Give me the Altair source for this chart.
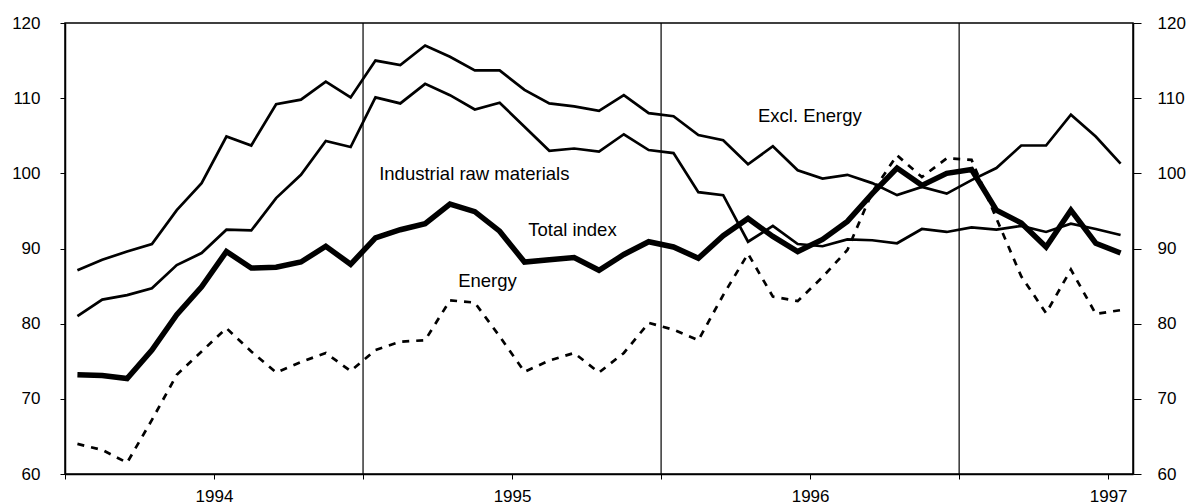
import altair as alt
import pandas as pd

# Monthly values, Jan 1994 .. Jul 1997 (43 months)
total = [73.2, 73.1, 72.7, 76.5, 81.2, 84.9, 89.6, 87.4, 87.5, 88.2, 90.3, 87.9,
         91.4, 92.5, 93.3, 95.9, 94.9, 92.3, 88.2, 88.5, 88.8, 87.1, 89.2, 90.9,
         90.2, 88.7, 91.7, 94.0, 91.6, 89.6, 91.2, 93.6, 97.3, 100.7, 98.4, 100.0, 100.5,
         95.1, 93.4, 90.2, 95.1, 90.7, 89.4]
excl_energy = [87.1, 88.5, 89.6, 90.6, 95.1, 98.7, 104.9, 103.7, 109.2, 109.8, 112.2, 110.1,
               115.0, 114.4, 117.0, 115.5, 113.7, 113.7, 111.1, 109.3, 108.9, 108.3, 110.4, 108.0,
               107.6, 105.1, 104.4, 101.2, 103.6, 100.4, 99.3, 99.8, 98.7, 97.1, 98.2, 97.3, 99.1,
               100.7, 103.7, 103.7, 107.8, 104.9, 101.3]
raw_materials = [81.0, 83.2, 83.8, 84.7, 87.8, 89.4, 92.5, 92.4, 96.7, 99.8, 104.3, 103.5,
                 110.1, 109.3, 111.9, 110.4, 108.5, 109.4, 106.2, 103.0, 103.3, 102.9, 105.2, 103.1,
                 102.7, 97.5, 97.1, 90.9, 93.0, 90.6, 90.3, 91.2, 91.1, 90.7, 92.6, 92.2, 92.8,
                 92.5, 93.0, 92.2, 93.3, 92.6, 91.8]
energy = [64.0, 63.2, 61.5, 67.2, 73.2, 76.3, 79.4, 76.3, 73.5, 74.9, 76.1, 73.7,
          76.5, 77.6, 77.8, 83.1, 82.8, 78.3, 73.6, 75.1, 76.1, 73.5, 76.1, 80.1,
          79.2, 77.8, 83.8, 89.3, 83.6, 83.0, 86.2, 89.8, 97.5, 102.4, 99.5, 102.0, 101.8,
          94.0, 86.3, 81.4, 87.2, 81.3, 81.8]

year_bounds = [12, 24, 36]          # month index of Jan 1995, Jan 1996, Jan 1997
x_ticks = [0, 6, 12, 18, 24, 30, 36, 42]
y_ticks = [60, 70, 80, 90, 100, 110, 120]

label_text = ["Excl. Energy", "Industrial raw materials", "Total index", "Energy"]
label_x = [27.9, 12.65, 18.65, 15.83]
label_y = [106.8, 99.1, 91.7, 84.9]

FONT = "Liberation Sans, Arial, Helvetica, sans-serif"


def frame(vals):
    return pd.DataFrame({"m": [i + 0.5 for i in range(len(vals))], "v": vals})


xenc = alt.X(
    "m:Q",
    scale=alt.Scale(domain=[0, 43], nice=False, zero=False),
    axis=alt.Axis(
        values=x_ticks,
        labelExpr="datum.value % 12 == 6 ? toString(1994 + floor(datum.value / 12)) : ''",
        tickSize=5, tickColor="black", tickWidth=1,
        domainColor="black", domainWidth=1.5,
        labelFont=FONT, labelFontSize=17, labelColor="black", labelPadding=9,
        labelFlush=False, labelOverlap=False, grid=False, title=None,
    ),
)

yscale = alt.Scale(domain=[60, 120], nice=False, zero=False)


def yenc(orient=None):
    if orient is None:
        return alt.Y("v:Q", scale=yscale, axis=None)
    return alt.Y(
        "v:Q", scale=yscale,
        axis=alt.Axis(
            orient=orient, values=y_ticks,
            tickSize=5 if orient == "left" else 8, tickColor="black", tickWidth=1,
            domainColor="black", domainWidth=1.5,
            labelFont=FONT, labelFontSize=17, labelColor="black",
            labelPadding=20 if orient == "left" else 16,
            grid=False, title=None,
        ),
    )


rules = alt.Chart(pd.DataFrame({"m": year_bounds})).mark_rule(
    color="black", strokeWidth=1.2
).encode(x=xenc)

energy_line = alt.Chart(frame(energy)).mark_line(
    color="black", strokeWidth=2.7, strokeDash=[7, 7]
).encode(x=xenc, y=yenc("right"))

raw_line = alt.Chart(frame(raw_materials)).mark_line(
    color="black", strokeWidth=2.7
).encode(x=xenc, y=yenc())

excl_line = alt.Chart(frame(excl_energy)).mark_line(
    color="black", strokeWidth=2.7
).encode(x=xenc, y=yenc())

total_line = alt.Chart(frame(total)).mark_line(
    color="black", strokeWidth=5.5
).encode(x=xenc, y=yenc("left"))

labels = alt.Chart(pd.DataFrame({"m": label_x, "v": label_y, "t": label_text})).mark_text(
    align="left", baseline="alphabetic", font=FONT, fontSize=18.5, color="black"
).encode(x=xenc, y=yenc(), text="t:N")

chart = alt.layer(
    rules, energy_line, raw_line, excl_line, total_line, labels
).resolve_axis(y="independent").properties(
    width=1068, height=451,
    padding={"left": 3, "top": 6, "right": 0, "bottom": 0},
    background="white",
).configure_view(stroke="black", strokeWidth=1.5)

chart.save("out.html", embed_options={"renderer": "svg", "actions": False})
